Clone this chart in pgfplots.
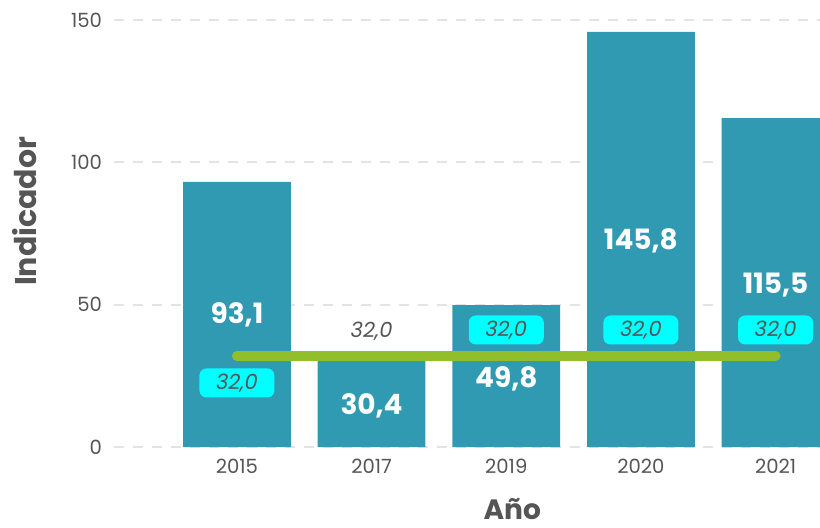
\documentclass[border=0pt]{standalone}
\usepackage{fontspec}
\setmainfont{Poppins}
\usepackage{pgfplots}
\pgfplotsset{compat=1.18}
\definecolor{barc}{HTML}{319AB3}
\definecolor{linec}{HTML}{93BE2B}
\definecolor{txt}{HTML}{555555}
\definecolor{gridc}{HTML}{E3E3E3}
\definecolor{boxc}{HTML}{00FFFF}
\begin{document}
\begin{tikzpicture}
\begin{axis}[
  scale only axis, width=353pt, height=223.5pt,
  xmin=-0.913, xmax=4.33, ymin=-2, ymax=155,
  axis line style={draw=none}, tick style={draw=none},
  xtick={0,1,2,3,4}, xticklabels={2015,2017,2019,2020,2021},
  ytick={0,50,100,150},
  ymajorgrids, grid style={gridc, line width=1pt, dash pattern=on 5pt off 4.5pt},
  tick label style={font=\fontsize{9.8}{11}\selectfont, text=txt},
  /pgf/number format/assume math mode=true,
  xticklabel style={yshift=0.5pt},
  yticklabel style={xshift=-2.5pt},
  xlabel={Año}, ylabel={Indicador},
  xlabel style={at={(axis description cs:0.564,0)}, anchor=center, yshift=-28pt, font=\bfseries\fontsize{14}{16}\selectfont, text=txt},
  ylabel style={at={([xshift=-44.5pt]axis description cs:0,0.54)}, anchor=center, font=\bfseries\fontsize{15}{17}\selectfont, text=txt},
]
\addplot[ybar, bar width=0.8, fill=barc, draw=none] coordinates {(0,93.1) (1,30.4) (2,49.8) (3,145.8) (4,115.5)};
\addplot[linec, line width=5pt, line cap=round] coordinates {(0,32) (4,32)};
\addplot[draw=none, mark=none, nodes near coords, point meta=explicit symbolic,
  nodes near coords style={font=\bfseries\fontsize{14}{16}\selectfont, text=white, anchor=center}]
  table[meta=lab] {
x y lab
0 46.55 93,1
1 14.6 30,4
2 24.0 49,8
3 72.3 145,8
4 57.0 115,5
};
\addplot[draw=none, mark=none, nodes near coords, point meta=explicit symbolic,
  nodes near coords style={font=\itshape\fontsize{10.5}{12}\selectfont, text=txt, anchor=center, fill=boxc, rounded corners=3.5pt, minimum width=37.5pt, minimum height=14.5pt, inner sep=0pt}]
  table[meta=lab] {
x y lab
0 22.5 32,0
2 41.1 32,0
3 41.1 32,0
4 41.1 32,0
};
\addplot[draw=none, mark=none, nodes near coords, point meta=explicit symbolic,
  nodes near coords style={font=\itshape\fontsize{10.5}{12}\selectfont, text=txt, anchor=center}]
  table[meta=lab] {
x y lab
1 40.7 32,0
};
\end{axis}
\pgfresetboundingbox
\path[use as bounding box] (-57pt,-37.15pt) rectangle (353pt,226.35pt);
\end{tikzpicture}
\end{document}
